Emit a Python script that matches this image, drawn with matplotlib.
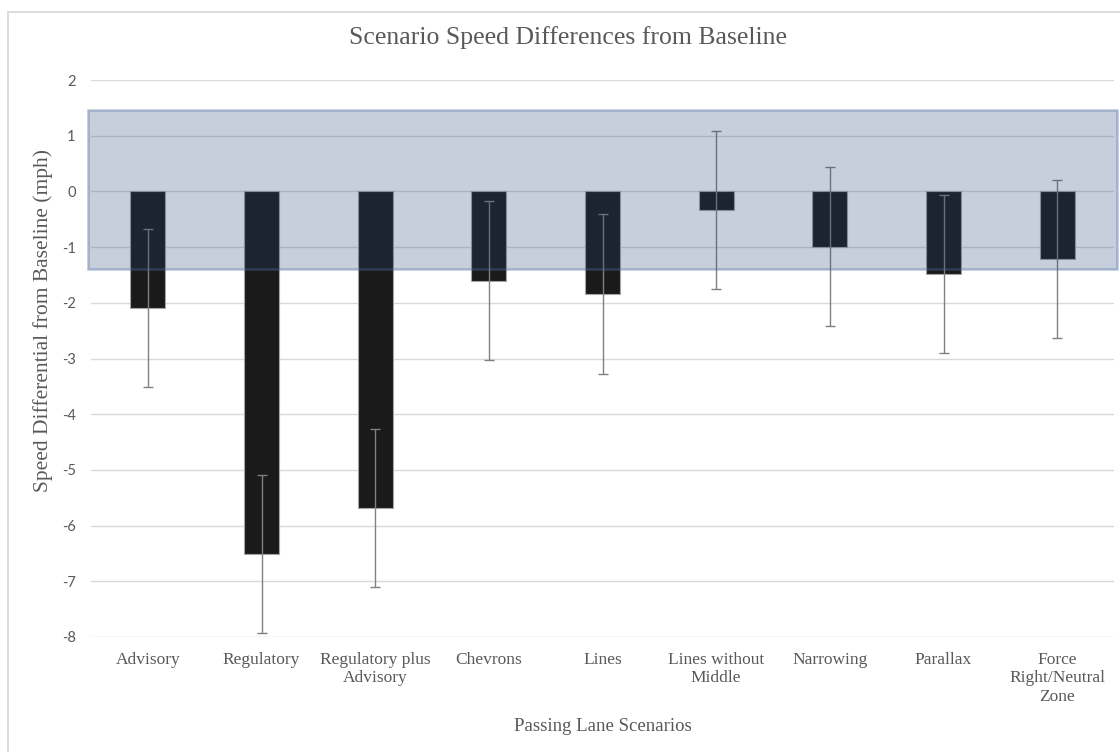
import matplotlib
matplotlib.use("Agg")
import matplotlib.pyplot as plt
from matplotlib.patches import Rectangle
from matplotlib.lines import Line2D
import numpy as np

# ---- data ----
categories = ["Advisory", "Regulatory", "Regulatory plus\nAdvisory", "Chevrons", "Lines",
              "Lines without\nMiddle", "Narrowing", "Parallax", "Force\nRight/Neutral\nZone"]
speed_diff = [-2.10, -6.51, -5.69, -1.60, -1.84, -0.34, -0.99, -1.48, -1.22]
error = [1.42, 1.42, 1.42, 1.42, 1.43, 1.42, 1.42, 1.42, 1.42]
band_low, band_high = -1.40, 1.47
y_ticks = [-8, -7, -6, -5, -4, -3, -2, -1, 0, 1, 2]

title = "Scenario Speed Differences from Baseline"
xlabel = "Passing Lane Scenarios"
ylabel = "Speed Differential from Baseline (mph)"

W, H = 1120, 752
fig = plt.figure(figsize=(W / 100, H / 100), dpi=100)
fig.patch.set_facecolor("white")

# axes placement in pixels
L, R, T, B = 91, 1114, 80, 637
ax = fig.add_axes([L / W, (H - B) / H, (R - L) / W, (B - T) / H])
ax.set_facecolor("white")

x = np.arange(len(categories))
ax.bar(x, speed_diff, width=0.305, color="#1a1a1a", edgecolor="#a6a6a6",
       linewidth=0.8, zorder=3)
ax.errorbar(x, speed_diff, yerr=error, fmt="none", ecolor="#808080",
            elinewidth=1.0, capsize=3.6, capthick=1.0, zorder=4)

ax.set_xlim(-0.5, len(categories) - 0.5)
ax.set_ylim(-8, 2)
ax.set_yticks(y_ticks)
ax.set_yticklabels([str(t) for t in y_ticks])
ax.set_xticks(x)
ax.set_xticklabels(categories, fontfamily="Liberation Serif", fontsize=12.5,
                   color="#595959", linespacing=1.18)
for lab in ax.get_yticklabels():
    lab.set_fontfamily("Lato")
    lab.set_fontsize(10.5)
    lab.set_color("#595959")
ax.tick_params(axis="both", length=0)
ax.tick_params(axis="x", pad=11)
ax.tick_params(axis="y", pad=11)

ax.yaxis.grid(True, color="#d9d9d9", linewidth=1.0, zorder=0)
ax.set_axisbelow(True)
for s in ax.spines.values():
    s.set_visible(False)

# translucent band overlay
band = Rectangle((-0.003, band_low), 1.006, band_high - band_low,
                 transform=ax.get_yaxis_transform(), facecolor=(34/255, 69/255, 117/255, 0.253),
                 edgecolor=(0.30, 0.42, 0.62, 0.40), linewidth=1.8, zorder=6, clip_on=False)
ax.add_patch(band)

ax.set_xlabel(xlabel, fontfamily="Liberation Serif", fontsize=13.5, color="#595959")
ax.xaxis.set_label_coords(0.5, (B - 718) / (B - T))
ax.set_ylabel(ylabel, fontfamily="Liberation Serif", fontsize=15.5, color="#595959")
ax.yaxis.set_label_coords((53 - L) / (R - L), (B - 321) / (B - T))

fig.text(568 / W, 1 - 44 / H, title, ha="center", va="baseline",
         fontfamily="Liberation Serif", fontsize=18.5, color="#595959")

# chart border
fig.add_artist(Line2D([8 / W, 1.0], [1 - 12 / H, 1 - 12 / H], transform=fig.transFigure,
                      color="#d9d9d9", linewidth=1.3))
fig.add_artist(Line2D([8 / W, 8 / W], [0.0, 1 - 12 / H], transform=fig.transFigure,
                      color="#d9d9d9", linewidth=1.3))

fig.savefig("out.png", dpi=100)
